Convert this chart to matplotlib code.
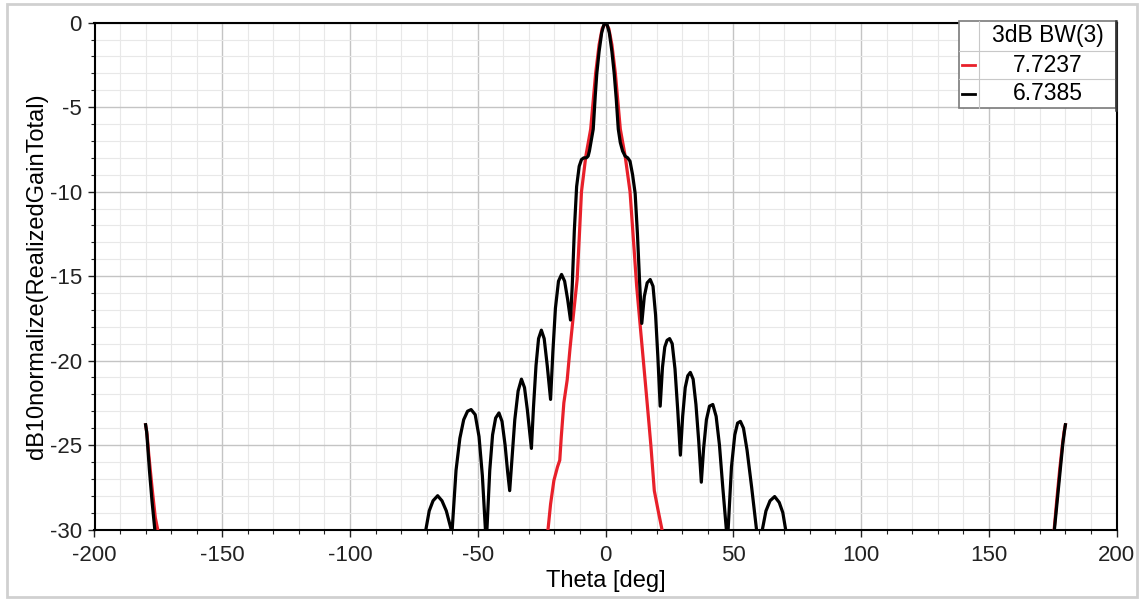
import matplotlib
matplotlib.use("Agg")
import matplotlib.pyplot as plt
from matplotlib.patches import Rectangle
from matplotlib.lines import Line2D
from matplotlib.ticker import MultipleLocator

# curve values (theta in deg, gain in dB)
black_theta = [
    -180, -179.6, -179.2, -178.5, -177.5, -176.4, -175.5,
    -72, -70.3, -69, -67.5, -65.7, -64, -62.3, -60.4, -60.2,
    -60.0, -58.5, -57, -55.5, -54, -52.6, -51, -49.5, -48.2, -47.0, -46.7,
    -46.4, -45.3, -44.2, -43, -41.7, -40.5, -39.3, -38.3, -37.5,
    -36.5, -35.5, -34.2, -32.9, -31.7, -30.6, -29.0,
    -28.2, -27.2, -26.2, -25.1, -24, -22.8, -21.5,
    -20.6, -19.6, -18.4, -17.2, -16, -14.8, -13.7,
    -13.0, -12.2, -11.3, -10.3, -9.4, -8.5, -7.5, -6.8, -6.3, -5.6, -4.8,
    -4.0, -3.4, -2.5, -1.5, -0.7, 0,
    0.7, 1.5, 2.5, 3.4, 4.2, 5.0, 5.8, 6.7, 7.7, 8.7, 9.6, 10.6, 11.6, 12.5, 13.4,
    14.2, 15.2, 16.3, 17.5, 18.6, 19.6, 20.5, 21.4,
    22.3, 23.2, 24.1, 25.1, 26.1, 27.2, 28.3, 29.3,
    30.2, 31.2, 32.2, 33.2, 34.3, 35.4, 36.5, 37.5,
    38.4, 39.5, 40.7, 42.0, 43.3, 44.6, 45.9, 47.3, 47.6,
    48.0, 49.3, 50.6, 51.7, 52.8, 54, 55.4, 57.2, 59.1, 60.2,
    61.4, 62.8, 64.4, 66.2, 68, 69.4, 70.5, 71.5,
    174.5, 175.7, 176.8, 178, 179, 179.6, 180,
]
black_db = [
    -23.8, -24.2, -25.0, -26.5, -28.3, -30, -33,
    -33, -30, -28.9, -28.3, -28.0, -28.3, -28.9, -30, -31,
    -30, -26.5, -24.6, -23.5, -23.0, -22.9, -23.2, -24.5, -26.8, -30, -31,
    -30, -26.5, -24.4, -23.4, -23.1, -23.6, -25, -26.6, -27.7,
    -25.6, -23.5, -21.8, -21.1, -21.6, -22.9, -25.2,
    -22.8, -20.3, -18.7, -18.2, -18.7, -20.3, -22.3,
    -19.5, -16.9, -15.3, -14.9, -15.3, -16.4, -17.6,
    -15.5, -12.3, -9.7, -8.5, -8.1, -8.0, -8.0, -7.9, -7.6, -7.0, -6.3,
    -4.3, -3.0, -1.7, -0.6, -0.15, 0,
    -0.15, -0.6, -1.7, -3.0, -4.5, -6.3, -7.1, -7.6, -7.9, -8.0, -8.2, -9.0, -10.1, -12.5, -15.5,
    -17.8, -16.2, -15.4, -15.2, -15.6, -17.3, -19.8, -22.7,
    -20.4, -19.2, -18.8, -18.7, -19.0, -20.5, -23, -25.6,
    -23.3, -21.6, -20.9, -20.7, -21.1, -22.6, -24.8, -27.2,
    -25.2, -23.5, -22.7, -22.6, -23.3, -25.0, -27.5, -30, -32,
    -30, -26.3, -24.4, -23.7, -23.6, -24.0, -25.3, -27.5, -30, -32,
    -30, -28.9, -28.3, -28.05, -28.4, -29.0, -30, -33,
    -33, -30, -28.3, -26.4, -24.9, -24.2, -23.8,
]

red_theta = [
    -180, -179.4, -178.8, -177.5, -176.2, -175.0, -174,
    -24, -22.5, -21.5, -20.2, -18.8, -17.9, -17.3, -16.3, -15.0, -13.9, -12.9,
    -11.1, -10.2, -9.4, -7.7, -5.8, -3.86, -2.5, -1.3, 0,
    1.3, 2.5, 3.86, 5.8, 7.7, 9.6, 11.0, 12.2, 13.8, 15.5, 17.0, 17.8, 19.1,
    20.5, 22.1, 23,
    174.5, 175.6, 176.6, 177.8, 178.9, 179.5, 180,
]
red_db = [
    -23.8, -24.4, -25.5, -27.5, -29.3, -30.2, -35,
    -35, -30, -28.5, -27.1, -26.3, -25.9, -24.5, -22.5, -21.15, -19.3, -17.8,
    -15.2, -12.5, -10.0, -7.9, -6.3, -3.0, -1.3, -0.35, 0,
    -0.35, -1.3, -3.0, -6.3, -7.9, -10.0, -13.0, -15.6, -18.3, -21.15, -23.7, -25.1, -27.7,
    -28.8, -30, -35,
    -35, -30, -28.3, -26.4, -24.9, -24.2, -23.8,
]

legend_title = "3dB BW(3)"
legend_values = ["7.7237", "6.7385"]
legend_colors = ["#e8202a", "#000000"]

W, H = 1143, 600
plt.rcParams['font.family'] = ['Liberation Sans', 'DejaVu Sans']
plt.rcParams['axes.unicode_minus'] = False
fig = plt.figure(figsize=(W / 100, H / 100), dpi=100)
ax = fig.add_axes([94.5 / W, 1 - 529.5 / H, (1116.5 - 94.5) / W, (529.5 - 22.7) / H])

ax.plot(red_theta, red_db, color=legend_colors[0], lw=2.3, zorder=3)
ax.plot(black_theta, black_db, color=legend_colors[1], lw=2.3, zorder=4)

ax.set_xlim(-200, 200)
ax.set_ylim(-30, 0)
ax.xaxis.set_major_locator(MultipleLocator(50))
ax.xaxis.set_minor_locator(MultipleLocator(10))
ax.yaxis.set_major_locator(MultipleLocator(5))
ax.yaxis.set_minor_locator(MultipleLocator(1))
ax.grid(which='major', color='#c4c4c4', lw=1.0, zorder=1)
ax.grid(which='minor', color='#e8e8e8', lw=0.8, zorder=0)
ax.tick_params(which='major', direction='out', length=5, width=1, labelsize=16, colors='#222222')
ax.tick_params(which='minor', direction='out', length=3, width=0.8, colors='#222222')
ax.tick_params(axis='x', which='major', pad=6)
ax.tick_params(axis='y', which='major', pad=4)
for s in ax.spines.values():
    s.set_linewidth(1.5)
    s.set_color('black')
ax.set_xlabel("Theta [deg]", fontsize=17, labelpad=3)
ax.set_ylabel("dB10normalize(RealizedGainTotal)", fontsize=17, labelpad=1)

# outer frame
def fx(px):
    return px / W

def fy(py):
    return 1 - py / H

fig.add_artist(Rectangle((fx(7), fy(597)), fx(1137) - fx(7), fy(4) - fy(597),
                         fill=False, ec='#d0d0d0', lw=2, transform=fig.transFigure))

# legend box drawn as a small table
x0, x1, xc, xr = 959, 979, 1047.5, 1116
ys = [21, 50.7, 79.3, 108.3]
fig.add_artist(Rectangle((fx(x0), fy(ys[-1])), fx(xr) - fx(x0), fy(ys[0]) - fy(ys[-1]),
                         fc='white', ec='#7a7a7a', lw=1.2, transform=fig.transFigure, zorder=10))
fig.add_artist(Line2D([fx(x1), fx(x1)], [fy(ys[0]), fy(ys[-1])], color='#c8c8c8', lw=0.8,
                      transform=fig.transFigure, zorder=11))
for y in ys[1:3]:
    fig.add_artist(Line2D([fx(x0), fx(xr)], [fy(y), fy(y)], color='#c8c8c8', lw=0.8,
                          transform=fig.transFigure, zorder=11))
fig.add_artist(Line2D([fx(xr), fx(xr)], [fy(ys[0]), fy(ys[-1] + 2)], color='#333333', lw=1.8,
                      transform=fig.transFigure, zorder=12))
fig.text(fx(xc), fy((ys[0] + ys[1]) / 2), legend_title, ha='center', va='center', fontsize=16.5, zorder=12)
for i, (val, col) in enumerate(zip(legend_values, legend_colors)):
    ym = (ys[i + 1] + ys[i + 2]) / 2
    fig.add_artist(Line2D([fx(962), fx(975)], [fy(ym), fy(ym)], color=col, lw=2,
                          transform=fig.transFigure, zorder=12))
    fig.text(fx(xc), fy(ym), val, ha='center', va='center', fontsize=16.5, zorder=12)

fig.savefig("out.png", dpi=100)
